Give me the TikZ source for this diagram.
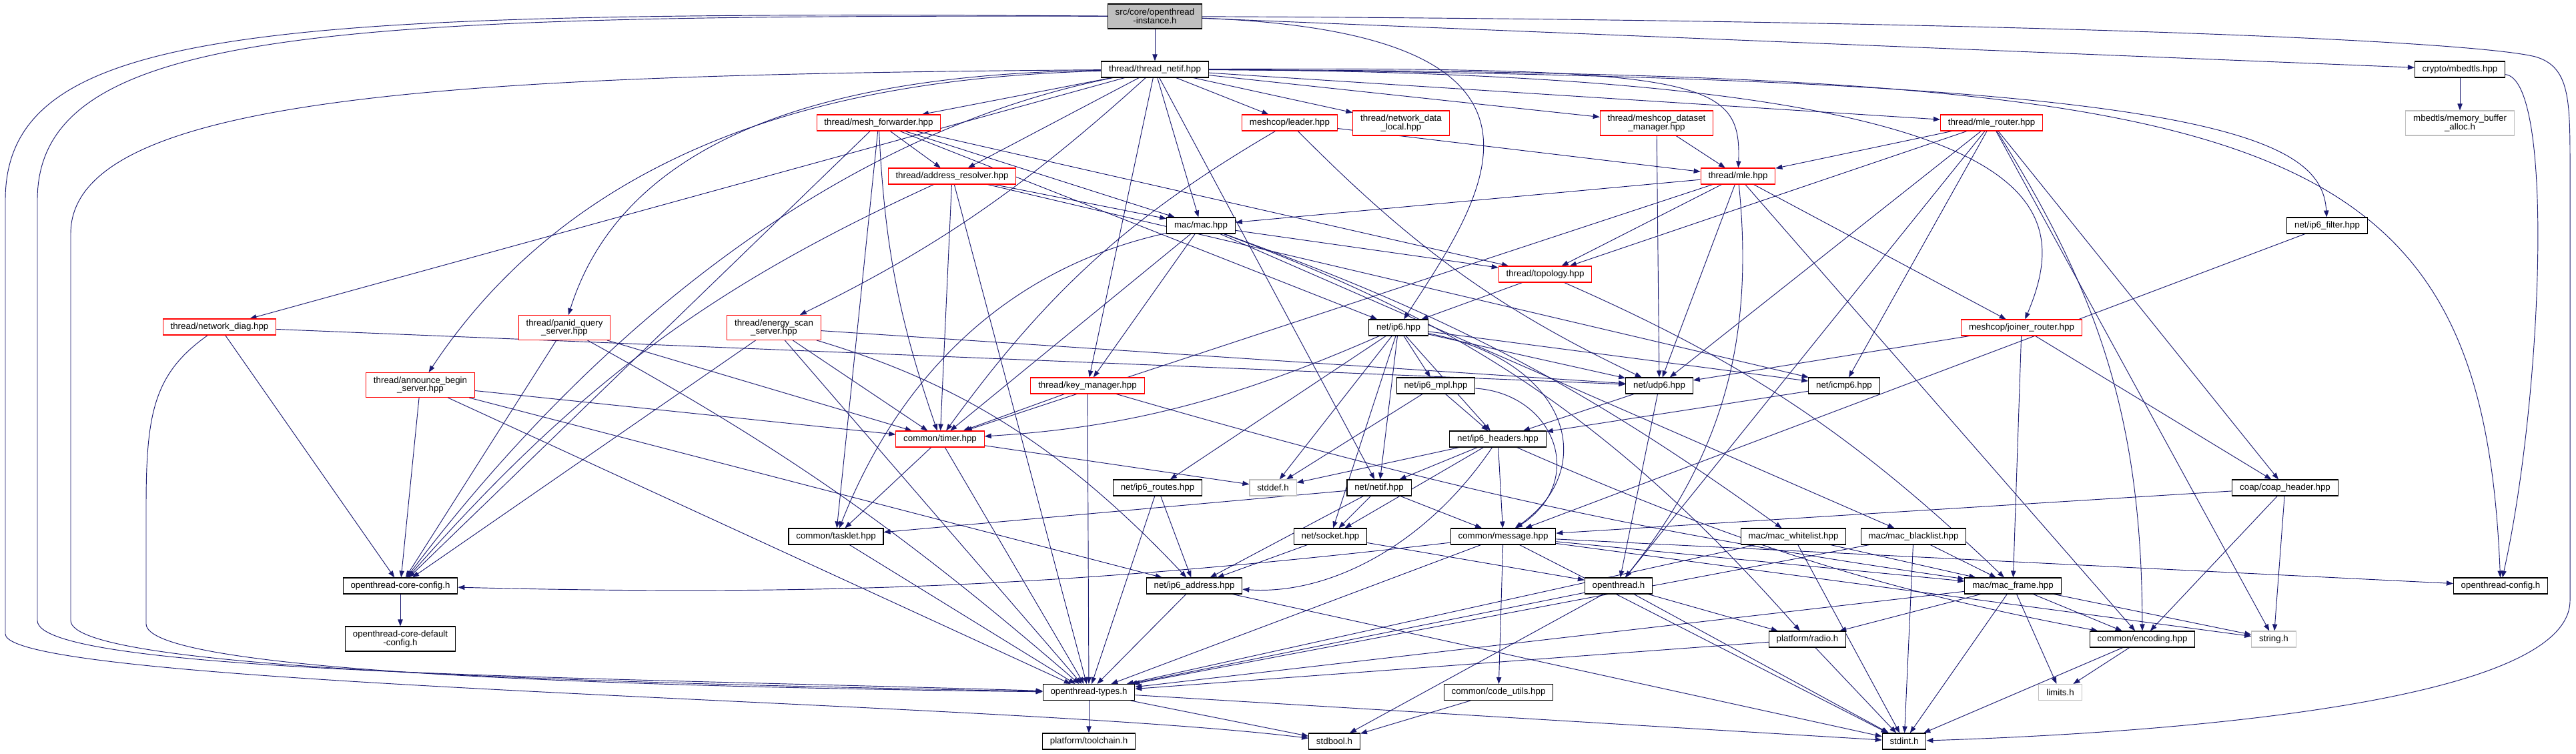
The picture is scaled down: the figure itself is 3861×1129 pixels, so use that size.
\documentclass[tikz,border=0pt]{standalone}
\usepackage{fontspec}
\setmainfont{Liberation Sans}
\usetikzlibrary{arrows.meta}
\definecolor{EdgeBlue}{HTML}{191970}
\definecolor{TruncRed}{HTML}{FF0000}
\definecolor{SysGray}{HTML}{BFBFBF}
\definecolor{RootFill}{HTML}{BFBFBF}
\pgfdeclarelayer{background}
\pgfsetlayers{background,main}
\tikzset{
	hdr/.style={draw=black, fill=white, line width=0.8pt, font=\fontsize{10}{9.5}\selectfont,
		inner xsep=8.5pt, inner ysep=0pt, minimum height=18pt, align=center},
	hdrtwo/.style={hdr, minimum height=27.75pt},
	trunc/.style={draw=TruncRed},
	sysh/.style={draw=SysGray},
	dep/.style={draw=EdgeBlue, line width=0.7pt, -{Triangle[length=7.5pt,width=5.5pt]}},
}

\begin{document}
\begin{tikzpicture}[x=0.75pt,y=-0.75pt]
	\useasboundingbox (0,0) rectangle (3861,1129);

	% Root and first level
	\node[hdrtwo, fill=RootFill] (inst) at (1731,24.5) {src/core/openthread\\-instance.h};
	\node[hdr] (tnetif) at (1731,104) {thread/thread\_netif.hpp};
	\node[hdr] (mbedtls) at (3687,104) {crypto/mbedtls.hpp};
	\node[hdrtwo, sysh] (membuf) at (3687,184.5) {mbedtls/memory\_buffer\\\_alloc.h};

	% Thread layer
	\node[hdr, trunc] (meshfwd) at (1317,184) {thread/mesh\_forwarder.hpp};
	\node[hdr, trunc] (leader) at (1933,184) {meshcop/leader.hpp};
	\node[hdrtwo, trunc] (ndlocal) at (2100,184.5) {thread/network\_data\\\_local.hpp};
	\node[hdrtwo, trunc] (dsmgr) at (2483,184.5) {thread/meshcop\_dataset\\\_manager.hpp};
	\node[hdr, trunc] (mlerouter) at (2985,184) {thread/mle\_router.hpp};
	\node[hdr, trunc] (addrres) at (1427,264) {thread/address\_resolver.hpp};
	\node[hdr, trunc] (mle) at (2605,264) {thread/mle.hpp};
	\node[hdr] (macmac) at (1800,338) {mac/mac.hpp};
	\node[hdr] (ipfilter) at (3488,338) {net/ip6\_filter.hpp};
	\node[hdr, trunc] (topology) at (2316,411) {thread/topology.hpp};
	\node[hdr, trunc] (netdiag) at (329,490) {thread/network\_diag.hpp};
	\node[hdrtwo, trunc] (panid) at (846,491) {thread/panid\_query\\\_server.hpp};
	\node[hdrtwo, trunc] (energy) at (1160,491) {thread/energy\_scan\\\_server.hpp};
	\node[hdr] (ipsix) at (2096,491) {net/ip6.hpp};
	\node[hdr, trunc] (joiner) at (3030,491) {meshcop/joiner\_router.hpp};
	\node[hdrtwo, trunc] (announce) at (630,577) {thread/announce\_begin\\\_server.hpp};
	\node[hdr, trunc] (keymgr) at (1630,578) {thread/key\_manager.hpp};

	% Net layer
	\node[hdr] (mpl) at (2152,578) {net/ip6\_mpl.hpp};
	\node[hdr] (udp) at (2487,578) {net/udp6.hpp};
	\node[hdr] (icmp) at (2764,578) {net/icmp6.hpp};
	\node[hdr, trunc] (timer) at (1409,658) {common/timer.hpp};
	\node[hdr] (headers) at (2245,658) {net/ip6\_headers.hpp};
	\node[hdr] (routes) at (1735,731) {net/ip6\_routes.hpp};
	\node[hdr, sysh] (stddef) at (1908,731) {stddef.h};
	\node[hdr] (netif) at (2067,731) {net/netif.hpp};
	\node[hdr] (coap) at (3425,731) {coap/coap\_header.hpp};
	\node[hdr] (tasklet) at (1253,804) {common/tasklet.hpp};
	\node[hdr] (socket) at (1994,804) {net/socket.hpp};
	\node[hdr] (message) at (2253,804) {common/message.hpp};
	\node[hdr] (whitelist) at (2688,804) {mac/mac\_whitelist.hpp};
	\node[hdr] (blacklist) at (2868,804) {mac/mac\_blacklist.hpp};

	% Bottom headers
	\node[hdr] (coreconf) at (600,878) {openthread-core-config.h};
	\node[hdrtwo] (coredef) at (600,957.5) {openthread-core-default\\-config.h};
	\node[hdr] (addr) at (1790,878) {net/ip6\_address.hpp};
	\node[hdr] (othdr) at (2426,878) {openthread.h};
	\node[hdr] (macframe) at (3017,878) {mac/mac\_frame.hpp};
	\node[hdr] (otconfig) at (3748,878) {openthread-config.h};
	\node[hdr] (radio) at (2709,958) {platform/radio.h};
	\node[hdr] (encoding) at (3211,958) {common/encoding.hpp};
	\node[hdr, sysh] (stringh) at (3408,958) {string.h};
	\node[hdr] (types) at (1632,1037.5) {openthread-types.h};
	\node[hdr] (codeutils) at (2246,1037.5) {common/code\_utils.hpp};
	\node[hdr, sysh] (limits) at (3088,1037.5) {limits.h};
	\node[hdr] (toolchain) at (1632,1111) {platform/toolchain.h};
	\node[hdr] (stdbool) at (2000,1111) {stdbool.h};
	\node[hdr] (stdint) at (2854,1111) {stdint.h};

	\begin{pgfonlayer}{background}
	\fill[white] (0,0) rectangle (3861,1129);

	% Include edges
	\foreach \a/\b in {inst/tnetif, inst/mbedtls,
		tnetif/meshfwd, tnetif/addrres, tnetif/macmac, tnetif/leader, tnetif/ndlocal, tnetif/dsmgr,
		tnetif/mlerouter, tnetif/netdiag, tnetif/keymgr, tnetif/netif,
		meshfwd/addrres, meshfwd/macmac, meshfwd/topology, meshfwd/coreconf, meshfwd/tasklet, meshfwd/ipsix,
		addrres/macmac, addrres/timer, addrres/icmp, addrres/types,
		leader/mle, dsmgr/mle, dsmgr/udp,
		mle/macmac, mle/timer, mle/topology, mle/udp, mle/joiner, mle/encoding,
		mlerouter/mle, mlerouter/topology, mlerouter/udp, mlerouter/icmp, mlerouter/coap,
		mlerouter/othdr, mlerouter/stringh,
		mbedtls/membuf, ipfilter/message,
		macmac/keymgr, macmac/timer, macmac/topology, macmac/blacklist,
		netdiag/coreconf, netdiag/udp, panid/coreconf, panid/timer,
		announce/coreconf, announce/timer, announce/types, announce/addr,
		energy/coreconf, energy/timer, energy/types, energy/udp,
		keymgr/timer, keymgr/types,
		timer/tasklet, timer/types, timer/stddef,
		routes/types, routes/addr, topology/ipsix,
		ipsix/routes, ipsix/stddef, ipsix/mpl, ipsix/udp, ipsix/icmp, ipsix/headers, ipsix/netif, ipsix/socket,
		mpl/headers, mpl/stddef, udp/headers, udp/othdr, icmp/headers,
		headers/stddef, headers/netif, headers/socket, headers/message,
		netif/tasklet, netif/addr, netif/socket, netif/message,
		joiner/udp, joiner/coap, joiner/macframe,
		coap/message, coap/encoding, coap/stringh,
		socket/addr, socket/othdr,
		message/types, message/codeutils, message/stdint, message/otconfig, message/macframe, message/stringh,
		whitelist/types, whitelist/stdint, whitelist/macframe,
		blacklist/types, blacklist/stdint, blacklist/macframe,
		othdr/types, othdr/stdbool, othdr/stdint, othdr/radio,
		radio/types, radio/stdint, codeutils/stdbool,
		macframe/types, macframe/radio, macframe/stdint, macframe/limits, macframe/encoding, macframe/stringh,
		encoding/limits, encoding/stdint, addr/types, addr/stdint, tasklet/types,
		coreconf/coredef, types/toolchain, types/stdbool, types/stdint}
		\draw[dep] (\a) -- (\b);

	% Curved edges around other boxes
	\foreach \a/\b/\px/\py/\qx/\qy in {tnetif/energy/1532/284/1401/373,
		tnetif/panid/1350/110/950/160, tnetif/announce/1350/115/900/170,
		meshfwd/timer/1326/372/1348/480, addrres/coreconf/1061/431/866/577,
		leader/timer/1695/323/1571/435, leader/udp/2119/372/2247/464,
		mle/othdr/2630/512/2581/682, mlerouter/encoding/3154/450/3210/644,
		macmac/tasklet/1527/398/1356/544, macmac/whitelist/2167/470/2371/576,
		macmac/radio/2203/487/2424/637, energy/addr/1436/573/1592/668,
		panid/types/1173/671/1349/793, keymgr/macframe/2161/732/2470/800,
		topology/macframe/2617/543/2780/652, ipsix/timer/1843/602/1684/641,
		headers/addr/2134/822/1987/892, headers/encoding/2607/817/2823/885,
		message/coreconf/1613/878/1244/894, ipsix/message/2350/540/2400/700,
		mpl/message/2330/590/2380/720, inst/ipsix/2400/50/2220/300,
		tnetif/mle/2560/100/2610/120, tnetif/ipfilter/3300/115/3480/200,
		tnetif/joiner/3080/110/3110/300, tnetif/otconfig/3400/110/3720/180,
		mbedtls/otconfig/3830/120/3810/600, tnetif/coreconf/1150/220/780/640}
		\draw[dep] (\a) .. controls (\px,\py) and (\qx,\qy) .. (\b);

	% Long edges down the sides
	\draw[dep] (inst) .. controls (400,16) and (8,36) .. (8,300) -- (8,950) .. controls (8,1030) and (1500,1050) .. (stdbool);
	\draw[dep] (inst) .. controls (500,22) and (56,40) .. (56,300) -- (56,930) .. controls (56,1010) and (900,1015) .. (types);
	\draw[dep] (tnetif) .. controls (700,112) and (106,140) .. (106,350) -- (106,930) .. controls (106,1000) and (800,1022) .. (types);
	\draw[dep] (netdiag) .. controls (230,560) and (219,620) .. (219,760) -- (219,935) .. controls (219,1000) and (800,1028) .. (types);
	\draw[dep] (inst) .. controls (3000,30) and (3700,60) .. (3800,85) .. controls (3852,100) and (3852,150) .. (3852,250)
		-- (3852,900) .. controls (3852,1060) and (3200,1100) .. (stdint);
	\end{pgfonlayer}
\end{tikzpicture}
\end{document}
